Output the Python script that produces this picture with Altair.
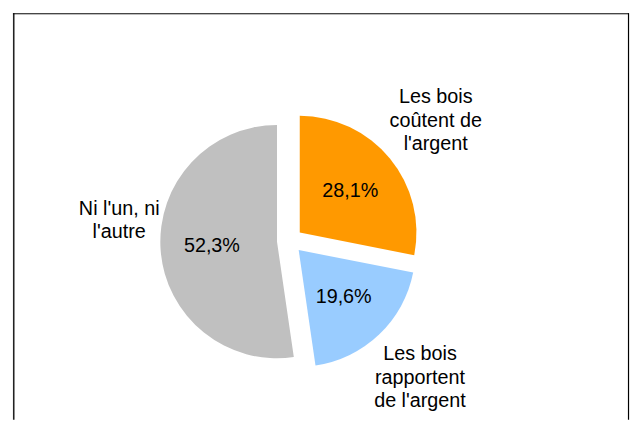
import math
import altair as alt
import pandas as pd

categories = ["Les bois coûtent de l'argent", "Les bois rapportent de l'argent", "Ni l'un, ni l'autre"]
label_lines = ["Les bois|coûtent de|l'argent", "Les bois|rapportent|de l'argent", "Ni l'un, ni|l'autre"]
values = [28.1, 19.6, 52.3]
pct_labels = ["28,1%", "19,6%", "52,3%"]
colors = ["#FF9900", "#99CCFF", "#C0C0C0"]
order = [0, 1, 2]

df = pd.DataFrame({"cat": categories, "label": label_lines, "value": values,
                   "pct": pct_labels, "order": order})

W, H = 624, 411
CX, CY = 280, 230
R = 118
EXPLODE = 13
LH = 24
FONT = "Liberation Sans"

base = alt.Chart(df).transform_window(
    cum="sum(value)", sort=[alt.SortField("order")], frame=[None, 0]
).transform_calculate(
    start="datum.cum - datum.value",
    end="datum.cum",
    mid="(datum.cum - datum.value / 2) / 100 * 2 * PI",
    nlines="length(split(datum.label, '|'))",
).transform_calculate(
    ax=f"{CX} + {EXPLODE} * sin(datum.mid)",
    ay=f"{CY} - {EXPLODE} * cos(datum.mid)",
).transform_calculate(
    px="datum.ax + 66 * sin(datum.mid)",
    py="datum.ay - 66 * cos(datum.mid)",
    ldist="sin(datum.mid) < 0 ? 160 : 178",
).transform_calculate(
    lx="datum.ax + datum.ldist * sin(datum.mid)",
    ly=f"datum.ay - datum.ldist * cos(datum.mid) + (sin(datum.mid) < 0 ? -33 : 0) - (datum.nlines - 1) * {LH} / 2",
)

arcs = base.mark_arc(outerRadius=R).encode(
    theta=alt.Theta("start:Q", stack=None,
                    scale=alt.Scale(domain=[0, 100], range=[0, 2 * math.pi])),
    theta2="end:Q",
    x=alt.X("ax:Q", scale=None, axis=None),
    y=alt.Y("ay:Q", scale=None, axis=None),
    color=alt.Color("cat:N", scale=alt.Scale(domain=categories, range=colors), legend=None),
)

pct = base.mark_text(font=FONT, fontSize=20, color="black", align="center",
                     baseline="middle").encode(
    x=alt.X("px:Q", scale=None, axis=None),
    y=alt.Y("py:Q", scale=None, axis=None),
    text="pct:N",
)

labels = base.mark_text(font=FONT, fontSize=20, color="black", align="center",
                        baseline="middle", lineBreak="|", lineHeight=LH).encode(
    x=alt.X("lx:Q", scale=None, axis=None),
    y=alt.Y("ly:Q", scale=None, axis=None),
    text="label:N",
)

frame_data = alt.Data(values=[{}])
left = alt.Chart(frame_data).mark_rule(color="#222", strokeWidth=1.6).encode(
    x=alt.value(0.8), y=alt.value(0), y2=alt.value(H))
top = alt.Chart(frame_data).mark_rule(color="black", strokeWidth=1).encode(
    x=alt.value(0), x2=alt.value(W - 1), y=alt.value(0.5))
right = alt.Chart(frame_data).mark_rule(color="black", strokeWidth=1.2).encode(
    x=alt.value(W - 1.5), y=alt.value(0), y2=alt.value(H))

chart = alt.layer(arcs, pct, labels, left, top, right).properties(
    width=W, height=H,
    padding={"left": 4, "top": 2, "right": 0, "bottom": 0},
    background="white",
).configure_view(stroke="transparent")

chart.save("out.html", embed_options={"renderer": "svg", "actions": False})
